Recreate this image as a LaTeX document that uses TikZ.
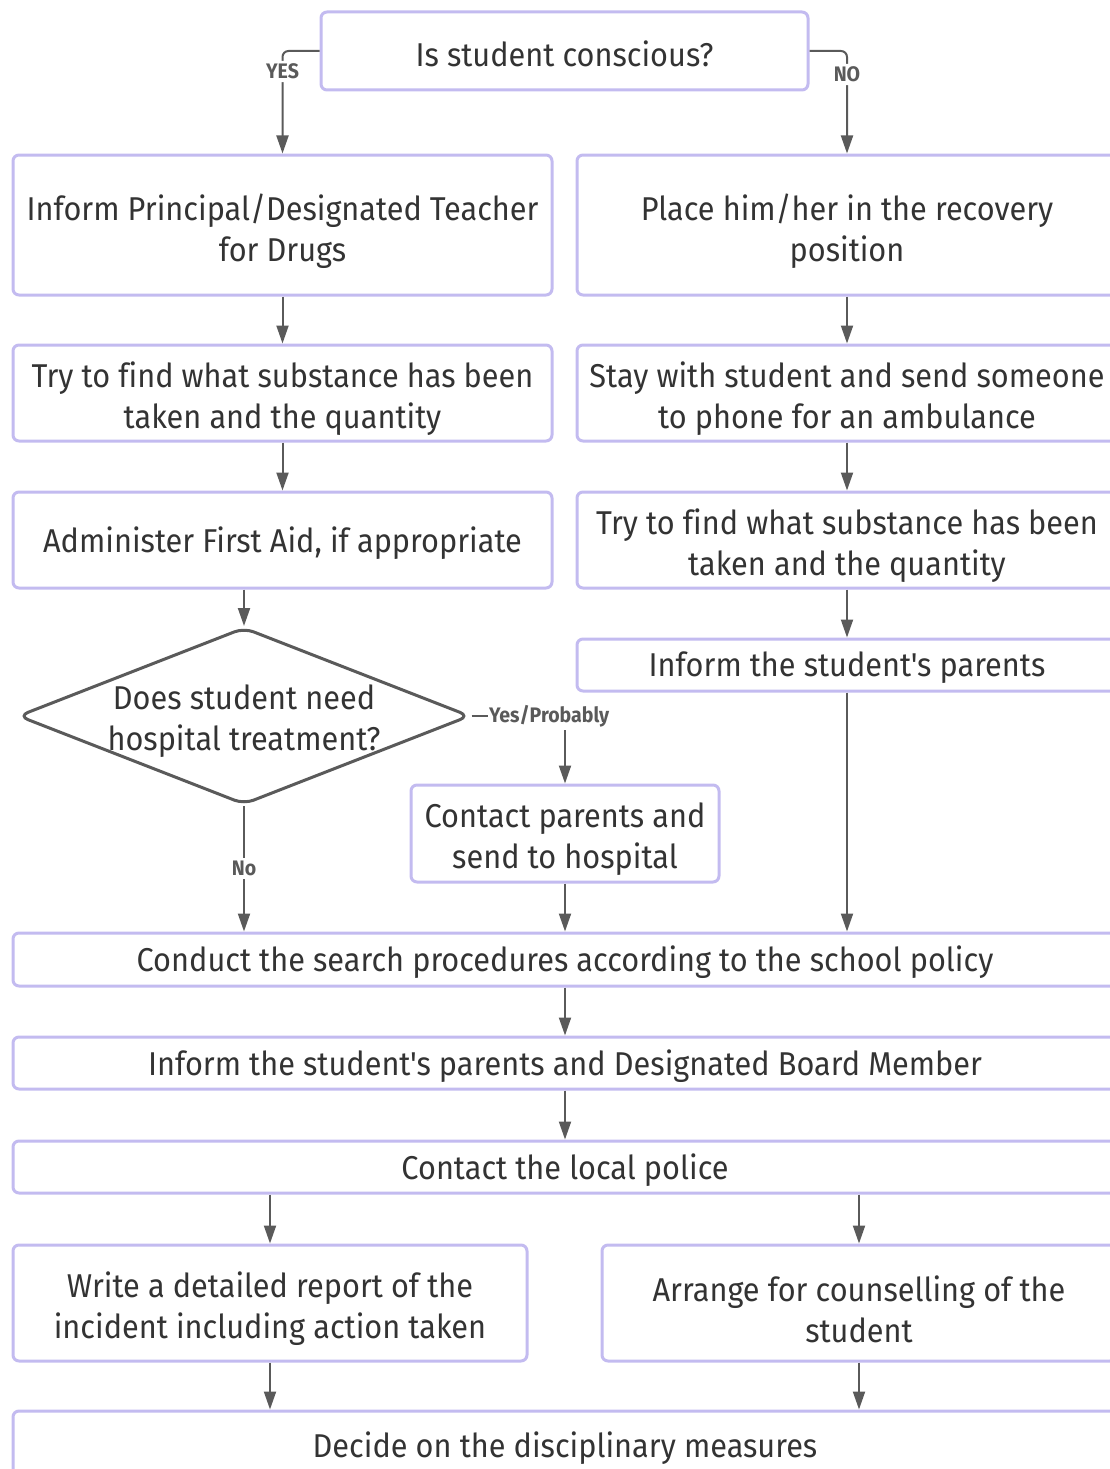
\documentclass[tikz,border=0pt]{standalone}
\usepackage{fontspec}
\setmainfont{Fira Sans}[FakeStretch=0.93,Ligatures={TeXOff,CommonOff}]
\usetikzlibrary{shapes.geometric,arrows.meta}
\definecolor{boxc}{HTML}{C3BBF0}
\definecolor{linec}{HTML}{5A5A5A}
\definecolor{txt}{HTML}{333333}
% name, x, y, width, height, text shift, text
\newcommand\flowbox[7]{%
  \node[box,minimum width=#4pt,minimum height=#5pt] (#1) at (#2,#3) {};
  \node[txtnode] (#1-t) at ([yshift=#6pt]#1.center) {#7};}
\begin{document}
\begin{tikzpicture}[x=1pt,y=-1pt,
  box/.style={draw=boxc,line width=3pt,rounded corners=6pt,fill=white,inner sep=0pt},
  dia/.style={draw=linec,line width=3pt,diamond,rounded corners=10pt,fill=white,inner sep=0pt,
    minimum width=452pt,minimum height=177pt,aspect=2.55},
  txtnode/.style={text=txt,align=center,font=\fontsize{33}{41}\selectfont,inner sep=0pt},
  arr/.style={draw=linec,line width=2pt,-{Triangle[length=18pt,width=12pt]}},
  lab/.style={fill=white,text=linec,font=\fontsize{21}{23}\selectfont\bfseries,inner sep=3pt}]
\path[use as bounding box] (0,0) rectangle (1110,1469);
\clip (0,0) rectangle (1110,1469);

% nodes
\flowbox{top}{564.5}{51}{487}{78}{-3}{Is student conscious?}
\flowbox{L1}{282.5}{225}{539}{140}{-6}{Inform Principal/Designated Teacher\\for Drugs}
\flowbox{R1}{847}{225}{540}{140}{-6}{Place him/her in the recovery\\position}
\flowbox{L2}{282.5}{393}{539}{96}{-6}{Try to find what substance has been\\taken and the quantity}
\flowbox{R2}{847}{393}{540}{96}{-6}{Stay with student and send someone\\to phone for an ambulance}
\flowbox{L3}{282.5}{540}{539}{96}{-3}{Administer First Aid, if appropriate}
\flowbox{R3}{847}{540}{540}{96}{-6}{Try to find what substance has been\\taken and the quantity}
\flowbox{R4}{847}{665}{540}{52}{-3}{Inform the student's parents}
\node[dia] (dq) at (244,716) {};
\node[txtnode] (dqtext) at ([yshift=-5pt]dq.center) {Does student need\\hospital treatment?};
\flowbox{contact}{565}{833.5}{308}{97}{-6}{Contact parents and\\send to hospital}
\flowbox{search}{565}{959.5}{1104}{53}{-3}{Conduct the search procedures according to the school policy}
\flowbox{board}{565}{1063}{1104}{52}{-3}{Inform the student's parents and Designated Board Member}
\flowbox{police}{565}{1167}{1104}{52}{-3}{Contact the local police}
\flowbox{report}{270}{1303}{514}{116}{-6}{Write a detailed report of the\\incident including action taken}
\flowbox{counsel}{859}{1303}{514}{116}{-6}{Arrange for counselling of the\\student}
\flowbox{decide}{565}{1445}{1104}{68}{-3}{Decide on the disciplinary measures}

% connectors
\draw[arr,rounded corners=6pt] (top.west) -| node[lab,pos=0.6] (lyes) {YES} (L1.north);
\draw[arr,rounded corners=6pt] (top.east) -| node[lab,pos=0.615] (lno) {NO} (R1.north);
\draw[arr] (L1) -- (L2);
\draw[arr] (L2) -- (L3);
\draw[arr] (L3.south -| dq.north) -- (dq.north);
\draw[arr] (R1) -- (R2);
\draw[arr] (R2) -- (R3);
\draw[arr] (R3) -- (R4);
\draw[arr] (dq.east) -| node[lab,pos=0.415,inner xsep=1pt] (lyp) {Yes/Probably} (contact.north);
\draw[arr] (dq.south) -- node[lab,pos=0.5] (lno2) {No} (dq.south |- search.north);
\draw[arr] (contact.south) -- (contact.south |- search.north);
\draw[arr] (R4.south) -- (R4.south |- search.north);
\draw[arr] (search) -- (board);
\draw[arr] (board) -- (police);
\draw[arr] (police.south -| report.north) -- (report.north);
\draw[arr] (police.south -| counsel.north) -- (counsel.north);
\draw[arr] (report.south) -- (report.south |- decide.north);
\draw[arr] (counsel.south) -- (counsel.south |- decide.north);
\end{tikzpicture}
\end{document}
